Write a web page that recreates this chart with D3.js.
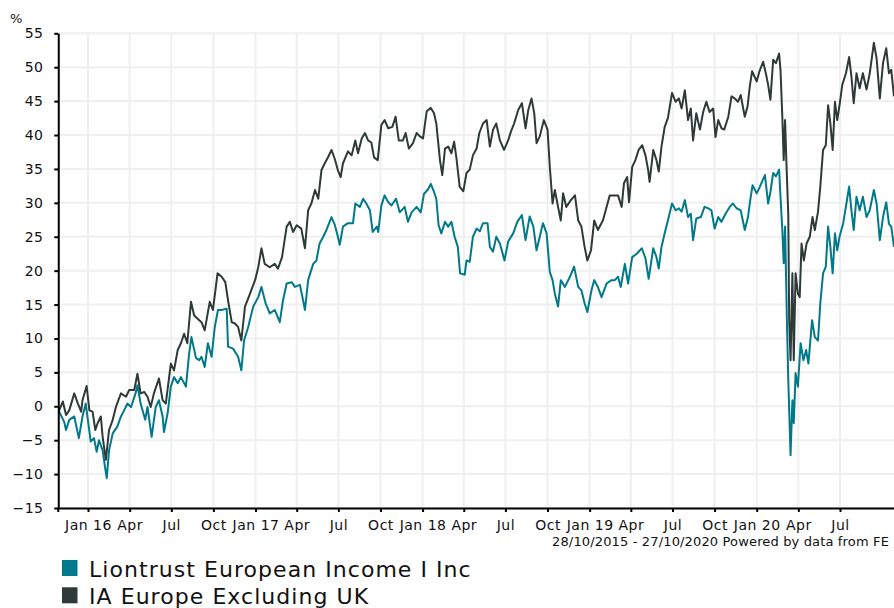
<!DOCTYPE html>
<html><head><meta charset="utf-8">
<script src="https://cdn.jsdelivr.net/npm/d3@7/dist/d3.min.js"></script>
<style>
html,body{margin:0;padding:0;background:#fff;}
svg{display:block;font-family:"DejaVu Sans",Verdana,sans-serif;}
</style></head><body>
<svg id="chart" width="894" height="608"></svg>
<script>
// ---- data ----
const seriesNames = ["Liontrust European Income I Inc", "IA Europe Excluding UK"];
const seriesColors = ["#007a8a", "#2d3a37"];
const yTicks = [-15,-10,-5,0,5,10,15,20,25,30,35,40,45,50,55];
const dateRange = ["2015-10-28", "2020-10-27"];
const xTickRange = ["2016-01-01", "2020-07-02"];
const footerText = "28/10/2015 - 27/10/2020 Powered by data from FE";

const lionDates = ["2015-10-28","2015-10-30","2015-11-10","2015-11-14","2015-11-21","2015-12-02","2015-12-12","2015-12-20","2015-12-27",
"2016-01-07","2016-01-14","2016-01-20","2016-01-25","2016-02-02","2016-02-07","2016-02-11","2016-02-16","2016-02-24","2016-03-05","2016-03-13","2016-03-20","2016-03-27",
"2016-04-04","2016-04-14","2016-04-18","2016-04-25","2016-05-05","2016-05-10","2016-05-19","2016-05-28","2016-06-04","2016-06-12","2016-06-15","2016-06-23","2016-06-30",
"2016-07-07","2016-07-15","2016-07-22","2016-08-02","2016-08-09","2016-08-14","2016-08-24","2016-08-31","2016-09-05","2016-09-12","2016-09-19","2016-09-27",
"2016-10-04","2016-10-11","2016-10-19","2016-10-30","2016-11-02","2016-11-13","2016-11-24","2016-12-01","2016-12-07","2016-12-16","2016-12-27",
"2017-01-07","2017-01-14","2017-01-23","2017-02-01","2017-02-12","2017-02-23","2017-03-02","2017-03-10","2017-03-21","2017-03-28","2017-04-08","2017-04-15","2017-04-19","2017-04-26",
"2017-05-07","2017-05-14","2017-05-21","2017-05-29","2017-06-05","2017-06-16","2017-06-23","2017-06-30","2017-07-04","2017-07-11","2017-07-22","2017-08-02","2017-08-07","2017-08-17","2017-08-24","2017-08-31",
"2017-09-08","2017-09-14","2017-09-23","2017-09-26","2017-10-03","2017-10-10","2017-10-18","2017-10-25","2017-11-04","2017-11-12","2017-11-23","2017-11-30","2017-12-08","2017-12-19","2017-12-28",
"2018-01-04","2018-01-13","2018-01-19","2018-01-26","2018-01-31","2018-02-05","2018-02-11","2018-02-19","2018-02-26","2018-03-05","2018-03-12","2018-03-19","2018-03-24",
"2018-04-03","2018-04-07","2018-04-14","2018-04-21","2018-04-29","2018-05-06","2018-05-13","2018-05-23","2018-05-28","2018-06-04","2018-06-11","2018-06-19","2018-06-29",
"2018-07-07","2018-07-18","2018-07-27","2018-08-06","2018-08-14","2018-08-23","2018-08-31","2018-09-07","2018-09-14","2018-09-21","2018-09-29",
"2018-10-06","2018-10-12","2018-10-17","2018-10-24","2018-10-30","2018-11-08","2018-11-19","2018-11-28","2018-12-07","2018-12-14","2018-12-21","2018-12-27",
"2019-01-05","2019-01-11","2019-01-19","2019-01-27","2019-02-07","2019-02-18","2019-02-25","2019-03-04","2019-03-10","2019-03-19","2019-03-26",
"2019-04-04","2019-04-14","2019-04-25","2019-05-03","2019-05-10","2019-05-20","2019-05-27","2019-06-01","2019-06-07","2019-06-14","2019-06-21","2019-06-30",
"2019-07-08","2019-07-15","2019-07-21","2019-07-28","2019-08-04","2019-08-10","2019-08-15","2019-08-22","2019-09-01","2019-09-09","2019-09-17","2019-09-24",
"2019-10-01","2019-10-09","2019-10-16","2019-10-25","2019-11-03","2019-11-10","2019-11-18","2019-11-27","2019-12-06","2019-12-13","2019-12-19","2019-12-23",
"2020-01-01","2020-01-08","2020-01-19","2020-01-26","2020-01-31","2020-02-06","2020-02-12","2020-02-19","2020-02-22","2020-02-26","2020-02-29",
"2020-03-03","2020-03-07","2020-03-10","2020-03-15","2020-03-19","2020-03-22","2020-03-26","2020-03-31","2020-04-06","2020-04-12","2020-04-18","2020-04-23",
"2020-05-01","2020-05-07","2020-05-14","2020-05-19","2020-05-25","2020-05-31","2020-06-05","2020-06-10","2020-06-15","2020-06-20","2020-06-25","2020-06-30",
"2020-07-08","2020-07-15","2020-07-21","2020-07-26","2020-07-31","2020-08-06","2020-08-13","2020-08-20","2020-08-28","2020-09-04","2020-09-13","2020-09-19","2020-09-26",
"2020-10-03","2020-10-10","2020-10-16","2020-10-21","2020-10-27"];
const lionValues = [0,-0.8,-2.3,-3.5,-2.0,-1.5,-4.7,-1.5,0.4,
-5.2,-4.7,-6.7,-5.0,-6.5,-8.9,-10.6,-6.5,-4.0,-3.0,-1.5,-0.6,0.4,
-0.1,1.9,3.1,0.4,-2.0,-0.1,-4.5,-0.1,0.9,-1.5,-3.8,-1.0,2.9,
4.3,3.4,4.3,2.9,7.8,10.2,7.1,6.8,7.3,5.8,9.3,7.3,
11.7,14.2,14.2,14.4,8.8,8.5,7.3,5.3,9.7,11.7,14.7,
16.1,17.6,15.2,13.7,14.2,12.4,15.6,18.1,18.3,17.6,17.9,15.6,14.2,18.6,
21.0,21.5,24.0,25.0,26.0,27.9,26.8,25.0,23.8,26.5,27.0,27.0,29.9,29.4,30.6,29.9,
28.9,25.7,26.5,25.7,29.6,31.1,30.1,29.6,30.6,28.6,29.4,27.2,28.6,29.4,28.6,
31.3,32.0,32.8,31.6,30.6,26.7,25.5,27.2,26.5,27.2,25.0,23.5,19.6,
19.4,21.5,21.3,25.0,26.2,25.8,27.0,27.0,23.5,22.8,25.0,24.0,21.5,
24.3,25.5,27.2,28.2,24.5,28.0,26.5,23.0,25.0,27.0,25.5,
19.8,18.6,16.6,14.7,18.6,17.6,19.1,20.6,17.6,17.1,15.2,13.9,
17.1,18.6,17.6,16.1,18.1,18.6,18.6,19.1,17.6,21.0,18.1,
22.0,22.5,23.3,21.8,18.8,23.3,22.0,20.3,23.5,25.5,27.4,29.9,
28.9,29.2,28.7,30.4,27.9,28.4,24.5,27.7,27.9,29.4,29.2,28.9,
26.2,27.9,27.2,28.4,29.4,29.9,29.2,28.9,26.0,27.9,30.9,32.6,
31.4,32.4,34.1,29.9,31.6,34.4,33.9,34.9,30.9,26.0,21.1,
26.5,12.7,3.9,-7.2,0.9,-2.5,4.9,2.9,9.3,6.8,8.3,6.3,
12.7,10.2,9.7,15.2,19.6,20.6,26.5,23.5,19.6,25.5,23.0,25.0,
27.0,29.9,32.4,28.9,26.0,30.9,28.9,30.9,27.9,28.9,31.9,29.9,24.5,
27.9,30.1,26.9,26.5,23.5];

const iaDates = ["2015-10-28","2015-10-30","2015-11-07","2015-11-14","2015-11-21","2015-12-02","2015-12-10","2015-12-17","2015-12-20","2015-12-29",
"2016-01-04","2016-01-11","2016-01-17","2016-01-22","2016-01-29","2016-02-02","2016-02-09","2016-02-16","2016-02-24","2016-03-02","2016-03-13","2016-03-24","2016-03-31",
"2016-04-11","2016-04-18","2016-04-25","2016-05-03","2016-05-10","2016-05-17","2016-05-24","2016-06-04","2016-06-12","2016-06-19","2016-06-30",
"2016-07-07","2016-07-15","2016-07-22","2016-07-29","2016-08-05","2016-08-13","2016-08-20","2016-08-31","2016-09-05","2016-09-12","2016-09-23","2016-09-30",
"2016-10-10","2016-10-19","2016-10-27","2016-11-02","2016-11-10","2016-11-17","2016-11-24","2016-12-01","2016-12-09","2016-12-20","2016-12-31",
"2017-01-07","2017-01-14","2017-01-21","2017-02-01","2017-02-12","2017-02-19","2017-02-28","2017-03-10","2017-03-17","2017-03-24","2017-04-01","2017-04-11","2017-04-19","2017-04-26",
"2017-05-03","2017-05-11","2017-05-18","2017-05-25","2017-06-01","2017-06-09","2017-06-16","2017-06-23","2017-06-30","2017-07-06","2017-07-11","2017-07-22","2017-07-30",
"2017-08-07","2017-08-13","2017-08-21","2017-08-28","2017-09-04","2017-09-11","2017-09-17","2017-09-25","2017-10-03","2017-10-10","2017-10-18","2017-10-27",
"2017-11-03","2017-11-10","2017-11-19","2017-11-25","2017-12-02","2017-12-11","2017-12-19","2017-12-26",
"2018-01-02","2018-01-10","2018-01-19","2018-01-26","2018-01-31","2018-02-08","2018-02-13","2018-02-19","2018-02-26","2018-03-05","2018-03-11","2018-03-16","2018-03-23","2018-03-31",
"2018-04-07","2018-04-14","2018-04-21","2018-04-29","2018-05-05","2018-05-13","2018-05-21","2018-05-28","2018-06-04","2018-06-11","2018-06-19","2018-06-28",
"2018-07-07","2018-07-13","2018-07-20","2018-07-29","2018-08-06","2018-08-14","2018-08-20","2018-08-27","2018-09-02","2018-09-07","2018-09-14","2018-09-23",
"2018-10-01","2018-10-06","2018-10-12","2018-10-17","2018-10-24","2018-10-30","2018-11-04","2018-11-11","2018-11-21","2018-11-30","2018-12-07","2018-12-14","2018-12-21","2018-12-27",
"2019-01-04","2019-01-11","2019-01-19","2019-01-30","2019-02-07","2019-02-14","2019-02-25","2019-03-04","2019-03-12","2019-03-17","2019-03-24","2019-03-28",
"2019-04-04","2019-04-11","2019-04-18","2019-04-26","2019-05-03","2019-05-09","2019-05-12","2019-05-20","2019-05-27","2019-06-01","2019-06-07","2019-06-14","2019-06-21","2019-06-30",
"2019-07-08","2019-07-15","2019-07-21","2019-07-28","2019-08-04","2019-08-10","2019-08-15","2019-08-22","2019-08-30","2019-09-06","2019-09-13","2019-09-20","2019-09-28",
"2019-10-03","2019-10-09","2019-10-16","2019-10-22","2019-10-31","2019-11-07","2019-11-14","2019-11-21","2019-11-27","2019-12-06","2019-12-12","2019-12-17","2019-12-22",
"2020-01-01","2020-01-07","2020-01-15","2020-01-21","2020-01-26","2020-01-31","2020-02-06","2020-02-12","2020-02-19","2020-02-22","2020-02-26","2020-02-29",
"2020-03-03","2020-03-06","2020-03-10","2020-03-12","2020-03-15","2020-03-19","2020-03-22","2020-03-26","2020-03-31","2020-04-04","2020-04-08","2020-04-13","2020-04-19","2020-04-26",
"2020-05-02","2020-05-07","2020-05-14","2020-05-19","2020-05-25","2020-05-31","2020-06-05","2020-06-10","2020-06-15","2020-06-20","2020-06-25","2020-06-30",
"2020-07-06","2020-07-14","2020-07-21","2020-07-26","2020-07-31","2020-08-06","2020-08-13","2020-08-20","2020-08-28","2020-09-04","2020-09-13","2020-09-19","2020-09-26",
"2020-10-03","2020-10-10","2020-10-16","2020-10-21","2020-10-27"];
const iaValues = [0,-0.6,0.7,-1.3,-0.6,1.9,0.4,-0.8,0.9,3.0,
-0.6,-0.8,-3.5,-2.5,-1.5,-4.5,-7.9,-3.5,-2.0,-0.1,1.9,1.4,2.4,
2.4,4.8,1.9,2.1,1.4,-0.1,1.9,4.1,0.9,0.4,6.3,
5.3,8.3,9.3,10.7,9.3,15.4,13.4,12.7,12.4,11.2,15.4,14.2,
19.6,19.1,18.3,15.6,12.4,12.2,11.7,9.7,14.7,16.6,18.6,
20.5,23.3,21.0,20.5,21.0,20.3,22.0,26.5,27.2,25.7,26.7,26.2,23.3,28.9,
29.9,31.9,30.6,34.8,35.8,36.8,37.8,36.5,34.8,33.8,35.8,37.6,37.0,
39.2,37.3,39.5,40.3,39.2,38.9,36.7,36.3,41.5,42.2,41.0,41.2,
42.7,39.2,39.2,40.3,38.0,38.8,40.3,39.8,
39.5,43.5,44.0,43.2,41.7,36.3,34.1,38.0,38.3,37.3,39.0,36.6,32.4,31.7,
34.4,34.9,37.0,38.0,40.3,41.7,42.2,38.3,40.8,41.7,39.2,37.8,
39.2,40.5,41.7,43.7,44.7,41.0,43.7,45.4,43.2,38.8,39.8,42.2,
40.8,35.3,29.9,31.9,29.4,27.4,31.4,29.4,30.4,31.1,27.4,26.5,23.5,21.5,
23.0,27.4,26.0,27.4,29.4,31.1,31.1,31.1,29.4,32.9,33.8,30.1,
35.3,36.3,37.8,38.5,37.0,34.8,33.1,37.8,36.3,34.6,38.3,41.2,42.5,46.2,
44.9,45.4,43.9,46.6,42.2,43.9,39.2,43.2,40.8,43.4,44.9,43.4,43.9,
39.7,42.2,41.0,40.8,42.7,45.7,45.4,44.9,45.9,42.7,44.2,47.2,49.4,
47.9,49.4,50.8,49.1,47.4,45.2,51.1,50.6,52.0,49.6,42.7,36.3,
42.2,35.8,28.2,12.7,6.8,19.6,6.8,19.6,16.6,16.1,24.0,21.5,24.0,25.0,
27.9,26.0,28.7,32.4,37.8,38.5,44.4,41.7,37.8,44.9,42.2,44.4,
47.4,49.1,51.5,48.6,44.7,49.1,46.9,49.1,46.7,49.1,53.6,51.3,45.4,
50.6,52.8,49.1,49.6,45.7];

// ---- drawing ----
const parse = d3.timeParse("%Y-%m-%d");
const m = {left: 58.25, right: 894, top: 33.3, bottom: 508};
const svg = d3.select("#chart");

const x = d3.scaleTime().domain(dateRange.map(parse)).range([m.left, m.right]);
const y = d3.scaleLinear().domain([-15, 55]).range([m.bottom, m.top]);

const quarterTicks = d3.timeMonth.every(3).range(parse(xTickRange[0]), parse(xTickRange[1]));
const monthNames = ["Jan","Feb","Mar","Apr","May","Jun","Jul","Aug","Sep","Oct","Nov","Dec"];
const fmtTick = d => d.getMonth() === 0 ? "Jan " + String(d.getFullYear()).slice(2) : monthNames[d.getMonth()];

// grid
const grid = svg.append("g").attr("stroke", "#efefef").attr("stroke-width", 2);
grid.selectAll("line.h").data(yTicks).join("line")
  .attr("x1", m.left).attr("x2", m.right)
  .attr("y1", d => y(d)).attr("y2", d => y(d));
grid.selectAll("line.v").data(quarterTicks).join("line")
  .attr("x1", d => x(d)).attr("x2", d => x(d))
  .attr("y1", m.top).attr("y2", m.bottom);

// clip
svg.append("clipPath").attr("id", "clip").append("rect")
  .attr("x", m.left).attr("y", m.top - 2).attr("width", m.right - m.left).attr("height", m.bottom - m.top + 2);

const line = d3.line().x(d => x(d[0])).y(d => y(d[1]));
const series = [
  lionDates.map((d, i) => [parse(d), lionValues[i]]),
  iaDates.map((d, i) => [parse(d), iaValues[i]])
];
const lines = svg.append("g").attr("clip-path", "url(#clip)");
series.forEach((s, i) => {
  lines.append("path").datum(s)
    .attr("fill", "none").attr("stroke", seriesColors[i])
    .attr("stroke-width", 2).attr("stroke-linejoin", "round")
    .attr("d", line);
});

// y axis
const yAxis = svg.append("g").attr("transform", `translate(${m.left},0)`)
  .call(d3.axisLeft(y).tickValues(yTicks).tickSize(4).tickPadding(11).tickSizeOuter(0));
yAxis.select(".domain").attr("stroke", "#000").attr("stroke-width", 2);
yAxis.selectAll(".tick line").attr("stroke", "#000").attr("stroke-width", 2);
yAxis.selectAll("text").attr("font-size", 14).attr("fill", "#111").attr("letter-spacing", 0.4)
  .attr("font-family", "DejaVu Sans, Verdana, sans-serif");

// x axis
const xAxis = svg.append("g").attr("transform", `translate(0,${m.bottom})`)
  .call(d3.axisBottom(x).tickValues(quarterTicks).tickFormat(fmtTick).tickSize(4).tickPadding(8).tickSizeOuter(0));
xAxis.select(".domain").attr("stroke", "#000").attr("stroke-width", 2);
xAxis.selectAll(".tick line").attr("stroke", "#000").attr("stroke-width", 2);
xAxis.selectAll("text").attr("font-size", 14).attr("fill", "#111").attr("letter-spacing", 0.5)
  .attr("font-family", "DejaVu Sans, Verdana, sans-serif");
svg.append("line").attr("x1", m.left).attr("x2", m.left).attr("y1", m.bottom).attr("y2", m.bottom + 4)
  .attr("stroke", "#000").attr("stroke-width", 2);

// % label
svg.append("text").attr("x", 10).attr("y", 23).attr("font-size", 13).attr("fill", "#111").text("%");

// footer
svg.append("text").attr("x", 889).attr("y", 546).attr("text-anchor", "end")
  .attr("font-size", 13).attr("letter-spacing", 0.15).attr("fill", "#111").text(footerText);

// legend
const leg = svg.append("g");
seriesNames.forEach((n, i) => {
  const yy = 560 + i * 27.3;
  leg.append("rect").attr("x", 62).attr("y", yy).attr("width", 15.5).attr("height", 16).attr("fill", seriesColors[i]);
  leg.append("text").attr("x", 89).attr("y", yy + 16.5).attr("font-size", 22).attr("letter-spacing", 1.05)
    .attr("fill", "#111").text(n);
});
</script>
</body></html>
